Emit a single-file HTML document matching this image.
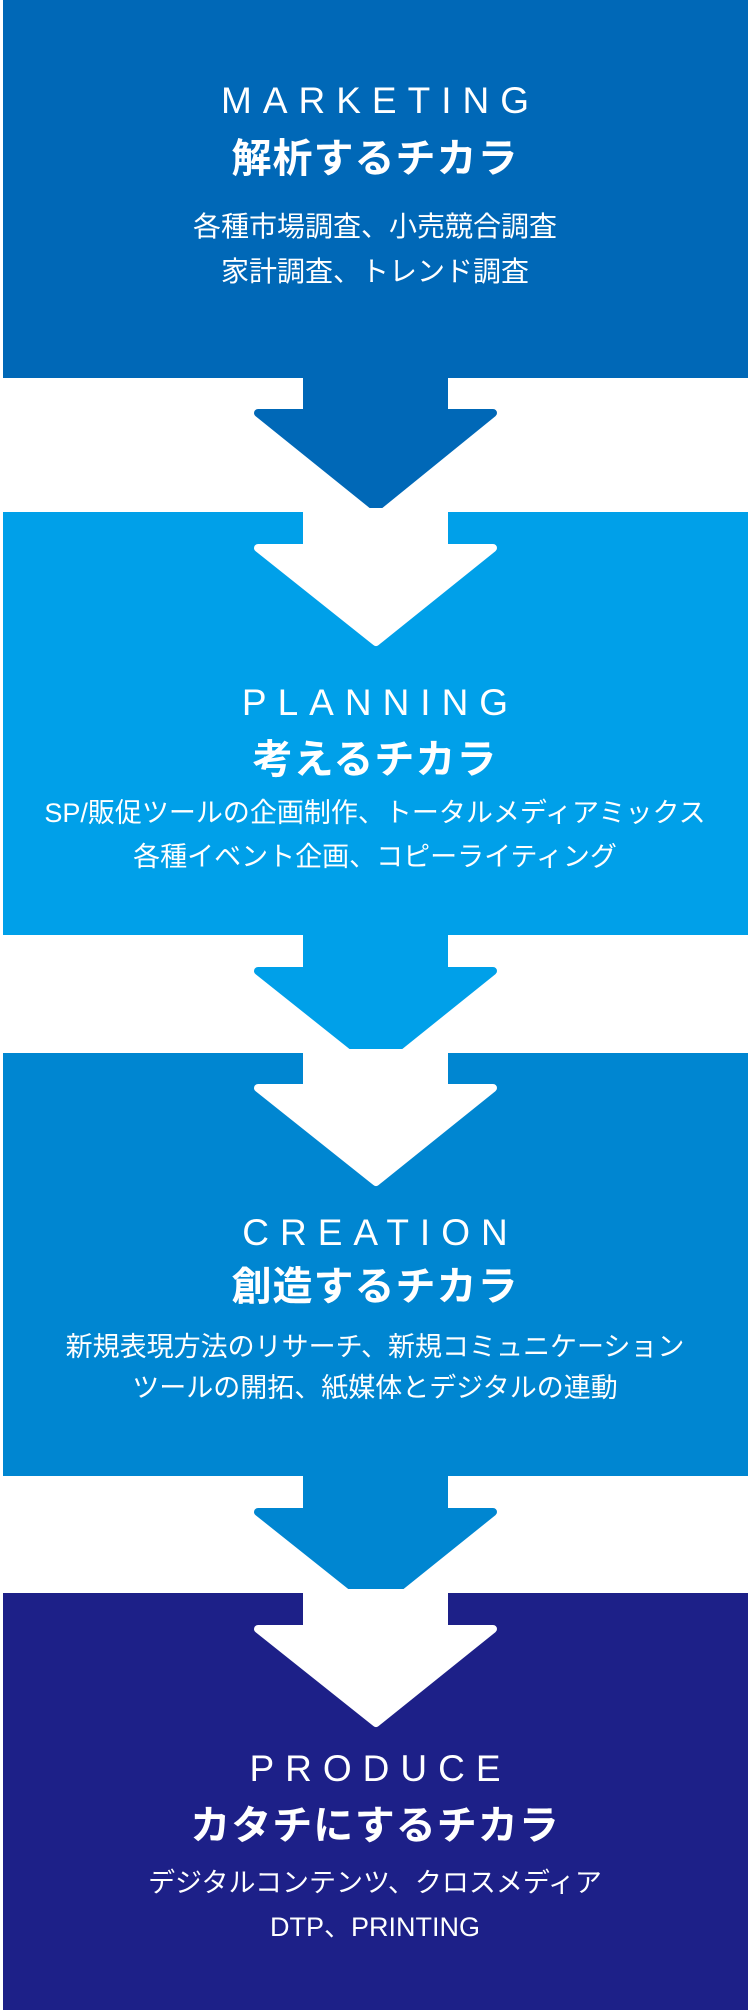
<!DOCTYPE html>
<html><head><meta charset="utf-8"><style>
body{margin:0;width:750px;height:2010px;position:relative;background:#fff;overflow:hidden;font-family:"Liberation Sans","Noto Sans CJK JP",sans-serif;color:#fff}
svg{position:absolute;left:0;top:0}
.t{position:absolute;left:0;width:750px;text-align:center;white-space:nowrap}
.en{font-size:37px;letter-spacing:11px;text-indent:11px;line-height:44px;font-weight:normal}
.jp{font-family:"Noto Sans CJK JP",sans-serif;font-size:40px;font-weight:bold;letter-spacing:1px;line-height:50px}
.d{font-family:"Liberation Sans","Noto Sans CJK JP",sans-serif;font-size:27px;line-height:40px}
</style></head><body>
<svg width="750" height="2010" viewBox="0 0 750 2010">
<rect x="3" y="0" width="745" height="378" fill="#0068b7"/>
<rect x="3" y="512" width="745" height="423" fill="#00a0e9"/>
<rect x="3" y="1053" width="745" height="423" fill="#0086d1"/>
<rect x="3" y="1593" width="745" height="417" fill="#1d2088"/>
<g stroke-linejoin="round" stroke-width="8">
<polygon points="307,374 444,374 444,413 493,413 376,508 258,413 307,413" fill="#0068b7" stroke="#0068b7"/>
<polygon points="307,512 444,512 444,548 493,548 376,642 258,548 307,548" fill="#fff" stroke="#fff"/>
<polygon points="307,931 444,931 444,971 493,971 376,1065 258,971 307,971" fill="#00a0e9" stroke="#00a0e9"/>
<polygon points="307,1053 444,1053 444,1088 493,1088 376,1182 258,1088 307,1088" fill="#fff" stroke="#fff"/>
<polygon points="307,1472 444,1472 444,1512 493,1512 376,1606 258,1512 307,1512" fill="#0086d1" stroke="#0086d1"/>
<polygon points="307,1593 444,1593 444,1629 493,1629 376,1723 258,1629 307,1629" fill="#fff" stroke="#fff"/>
</g>
</svg>
<div class="t en" style="top:79px">MARKETING</div>
<div class="t jp" style="top:130px">解析するチカラ</div>
<div class="t d" style="top:207px;font-size:28px">各種市場調査、小売競合調査</div>
<div class="t d" style="top:252px;font-size:28px">家計調査、トレンド調査</div>

<div class="t en" style="top:681px">PLANNING</div>
<div class="t jp" style="top:731px">考えるチカラ</div>
<div class="t d" style="top:793px">SP/販促ツールの企画制作、トータルメディアミックス</div>
<div class="t d" style="top:837px">各種イベント企画、コピーライティング</div>

<div class="t en" style="top:1211px">CREATION</div>
<div class="t jp" style="top:1258px">創造するチカラ</div>
<div class="t d" style="top:1327px">新規表現方法のリサーチ、新規コミュニケーション</div>
<div class="t d" style="top:1368px">ツールの開拓、紙媒体とデジタルの連動</div>

<div class="t en" style="top:1747px">PRODUCE</div>
<div class="t jp" style="top:1797px">カタチにするチカラ</div>
<div class="t d" style="top:1863px">デジタルコンテンツ、クロスメディア</div>
<div class="t d" style="top:1907px">DTP、PRINTING</div>
</body></html>
